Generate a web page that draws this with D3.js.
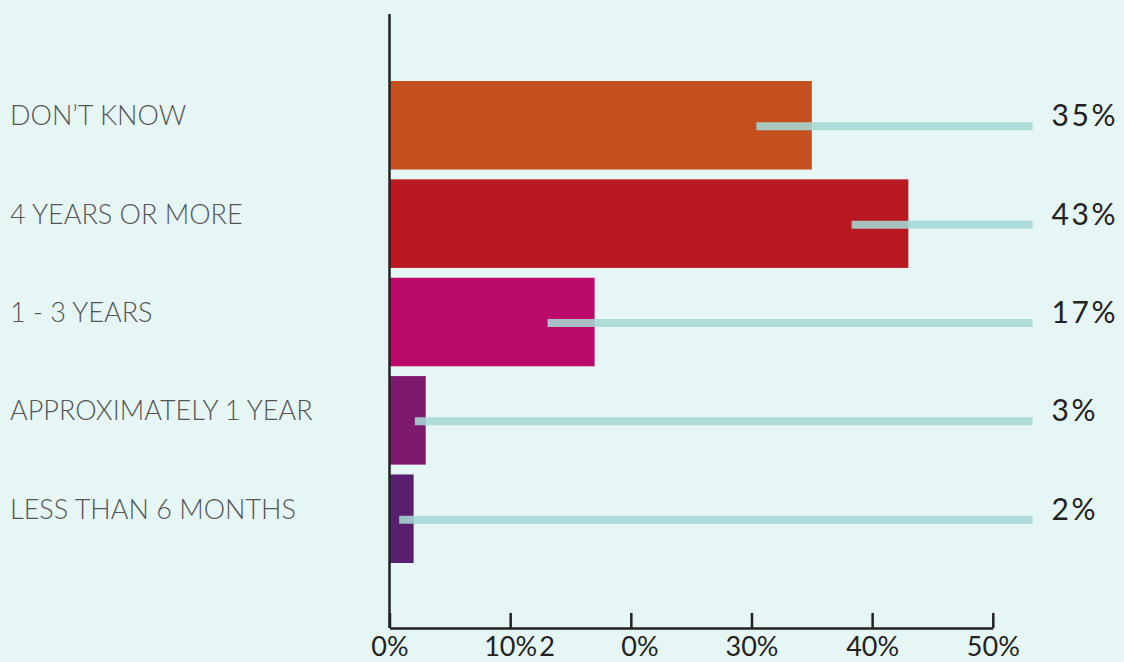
<!DOCTYPE html>
<html>
<head>
<meta charset="utf-8">
<script src="https://cdn.jsdelivr.net/npm/d3@7"></script>
<style>
  html, body { margin: 0; padding: 0; background: #e6f6f5; }
  svg { display: block; }
  .cat-label { font-family: Lato, "Open Sans", sans-serif; font-weight: 300; font-size: 27px; fill: #555; }
  .val-label { font-family: Lato, "Open Sans", sans-serif; font-size: 30px; fill: #222; letter-spacing: 2.5px; }
  .x-axis text { font-family: Lato, "Open Sans", sans-serif; font-size: 27px; fill: #222; }
</style>
</head>
<body>
<div id="chart"></div>
<script>
// chart data
const categories = ['DON’T KNOW', '4 YEARS OR MORE', '1 - 3 YEARS', 'APPROXIMATELY 1 YEAR', 'LESS THAN 6 MONTHS'];
const values = [35, 43, 17, 3, 2];
const lineStarts = [30.4, 38.3, 13.1, 2.1, 0.8];
const lineEnd = 53.3;
const barColors = ['#c45020', '#b91a21', '#bb0a6a', '#7e1a6e', '#58206f'];
const xTicks = [0, 10, 20, 30, 40, 50];

const width = 1124, height = 662;

const svg = d3.select('#chart')
    .append('svg')
    .attr('width', width)
    .attr('height', height);

const x = d3.scaleLinear().domain([0, 50]).range([389.5, 992.8]);
const y = d3.scaleBand().domain(categories).range([81, 563]).paddingInner(0.1).paddingOuter(0);

// bars
svg.selectAll('.bar')
    .data(categories)
    .enter()
    .append('rect')
    .attr('class', 'bar')
    .attr('x', x(0))
    .attr('y', d => y(d))
    .attr('width', (d, i) => x(values[i]) - x(0))
    .attr('height', y.bandwidth())
    .attr('fill', (d, i) => barColors[i]);

// teal lines over the bars
svg.selectAll('.range-line')
    .data(categories)
    .enter()
    .append('line')
    .attr('class', 'range-line')
    .attr('x1', (d, i) => x(lineStarts[i]))
    .attr('x2', x(lineEnd))
    .attr('y1', d => y(d) + y.bandwidth() / 2 + 1)
    .attr('y2', d => y(d) + y.bandwidth() / 2 + 1)
    .attr('stroke', '#a6d8d3')
    .attr('stroke-width', 8)
    .attr('opacity', 0.88);

// value labels
svg.selectAll('.val-label')
    .data(categories)
    .enter()
    .append('text')
    .attr('class', 'val-label')
    .attr('x', x(lineEnd) + 19)
    .attr('y', d => y(d) + y.bandwidth() / 2 + 1)
    .text((d, i) => values[i] + '%');

// category labels
svg.selectAll('.cat-label')
    .data(categories)
    .enter()
    .append('text')
    .attr('class', 'cat-label')
    .attr('x', 10)
    .attr('y', d => y(d) + y.bandwidth() / 2)
    .text(d => d);

// y axis line
svg.append('line')
    .attr('x1', x(0)).attr('x2', x(0))
    .attr('y1', 14).attr('y2', 628)
    .attr('stroke', '#222')
    .attr('stroke-width', 2.5);

// x axis
const xAxis = svg.append('g')
    .attr('class', 'x-axis')
    .attr('transform', 'translate(0,628)')
    .call(d3.axisBottom(x).tickValues(xTicks).tickFormat(d => d + '%').tickSizeInner(-15).tickSizeOuter(0).tickPadding(8));

xAxis.select('.domain').attr('stroke', '#222').attr('stroke-width', 2.5);
xAxis.selectAll('.tick line').attr('stroke', '#222').attr('stroke-width', 2.5);
xAxis.selectAll('.tick text').attr('y', 28).attr('dy', 0);

// the "20%" label is drawn split in the original
xAxis.selectAll('.tick text')
    .filter(d => d === 20)
    .each(function() {
        const t = d3.select(this).text('').attr('text-anchor', 'start').attr('x', -92);
        t.append('tspan').text('2');
        t.append('tspan').attr('x', -10).text('0%');
    });
</script>
</body>
</html>
